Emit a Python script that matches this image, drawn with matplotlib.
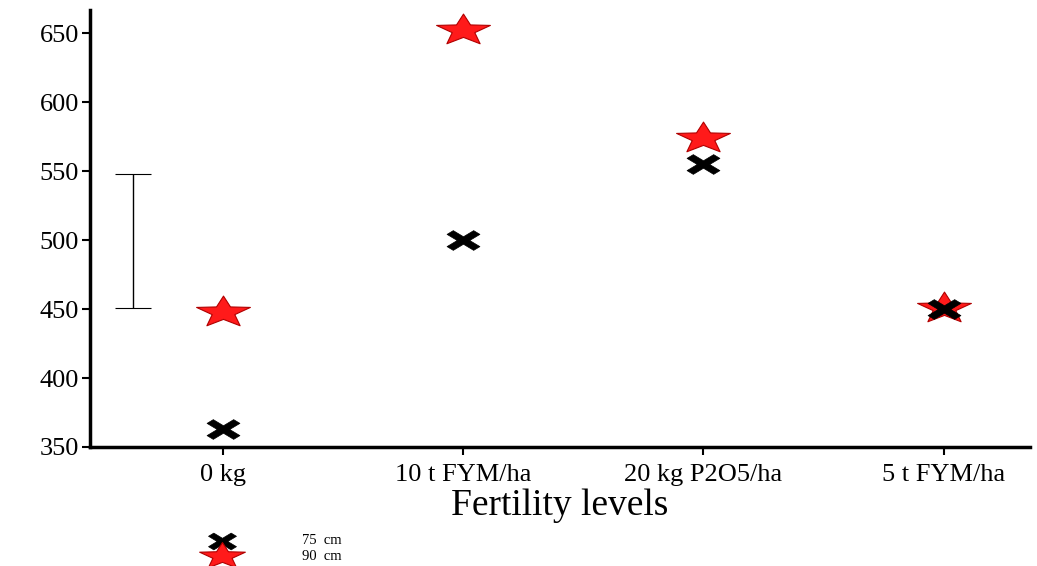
import numpy as np
import matplotlib
matplotlib.use("Agg")
import matplotlib.pyplot as plt
from matplotlib.path import Path

categories = ["0 kg", "10 t FYM/ha", "20 kg P2O5/ha", "5 t FYM/ha"]
spacing_75 = [363, 500, 555, 450]
spacing_90 = [448, 652, 574, 451]
series_labels = ["75  cm", "90  cm"]
err_center = 499.5
err_half = 48.5
yticks = [350, 400, 450, 500, 550, 600, 650]

plt.rcParams['font.family'] = ['Liberation Serif', 'DejaVu Serif']

def squashed_star(sq=0.58):
    pts = []
    for i in range(10):
        ang = np.pi / 2 + i * np.pi / 5
        r = 1.0 if i % 2 == 0 else 0.42
        pts.append((r * np.cos(ang), r * np.sin(ang) * sq))
    pts.append(pts[0])
    codes = [Path.MOVETO] + [Path.LINETO] * 9 + [Path.CLOSEPOLY]
    return Path(pts, codes)

def squashed_x(sq=0.6, w=0.38):
    a = w
    pts = [(-1, 1 - a), (-1 + a, 1), (0, a), (1 - a, 1), (1, 1 - a), (a, 0),
           (1, -1 + a), (1 - a, -1), (0, -a), (-1 + a, -1), (-1, -1 + a), (-a, 0)]
    pts = [(x, y * sq) for x, y in pts]
    pts.append(pts[0])
    codes = [Path.MOVETO] + [Path.LINETO] * 11 + [Path.CLOSEPOLY]
    return Path(pts, codes)

star = squashed_star()
xm = squashed_x()

fig = plt.figure(figsize=(10.37, 5.66), dpi=100)
ax = fig.add_axes([90/1037, 1 - 447/566, (1030-90)/1037, (447-10)/566])

x = np.arange(len(categories))
ax.scatter(x, spacing_75, marker=xm, s=560, color='black', linewidths=0.5,
           edgecolors='black', zorder=3, label=series_labels[0])
ax.scatter(x, spacing_90, marker=star, s=1500, facecolor='#ff1a1a',
           edgecolors='#b00000', linewidths=0.8, zorder=2, label=series_labels[1])

ax.errorbar([-0.375], [err_center], yerr=[err_half], fmt='none', ecolor='black',
            elinewidth=1, capsize=13, capthick=0.8)

ax.set_xlim(-0.554, 3.36)
ax.set_ylim(350, 666.7)
ax.set_xticks(x)
ax.set_xticklabels(categories, fontsize=19)
ax.set_yticks(yticks)
ax.set_yticklabels([str(v) for v in yticks], fontsize=19)
for s in ['top', 'right']:
    ax.spines[s].set_visible(False)
for s in ['left', 'bottom']:
    ax.spines[s].set_linewidth(2.5)
ax.tick_params(axis='both', direction='out', length=6, width=1.5)
ax.tick_params(axis='x', pad=6)
ax.tick_params(axis='y', pad=2)
ax.set_xlabel("Fertility levels", fontsize=27, labelpad=2)

leg = fig.legend(loc='upper left', bbox_to_anchor=(200/1037, 1 - 527/566),
                 frameon=False, fontsize=10.5, labelspacing=0.15, handletextpad=4.5,
                 markerscale=0.85, borderpad=0)

fig.savefig("out.png", dpi=100)
